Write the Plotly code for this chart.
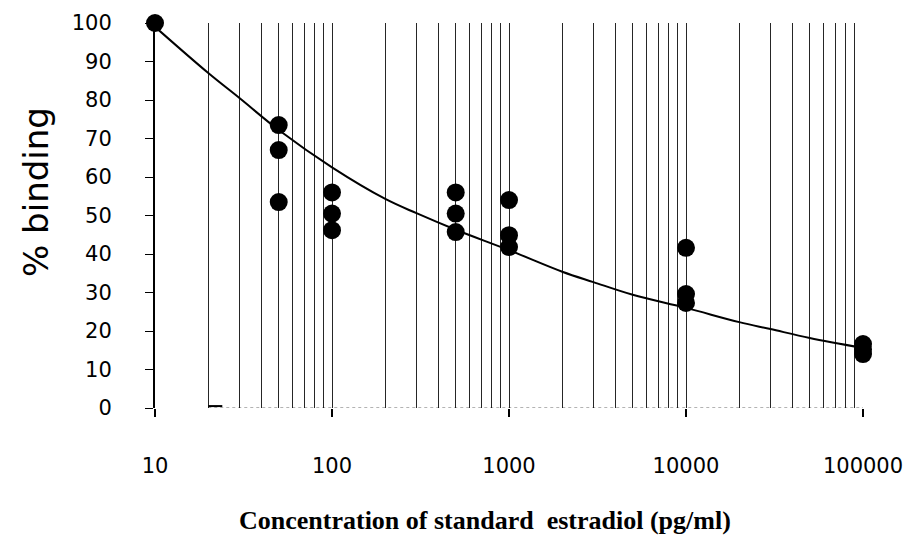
import plotly.graph_objects as go

# Measured standards (pg/ml) and % binding
conc = [10, 50, 50, 50, 100, 100, 100, 500, 500, 500,
        1000, 1000, 1000, 10000, 10000, 10000, 100000, 100000, 100000]
binding = [100, 73.5, 67, 53.5, 56, 50.5, 46.2, 56, 50.5, 45.7,
           54, 44.9, 41.8, 41.6, 29.6, 27.3, 16.6, 15.2, 14.0]

# Fitted curve
curve_x = [10, 20, 30, 50, 100, 200, 300, 500, 1000, 2000, 3000, 5000,
           10000, 20000, 30000, 50000, 100000]
curve_y = [99, 87, 80.5, 72.2, 62.5, 54.3, 50.6, 46.3, 41, 35.4, 32.7, 29.4,
           26, 22.3, 20.5, 18.2, 15.6]

# Vertical grid positions (log paper)
grid_x = [20, 30, 40, 50, 60, 70, 80, 90,
          100, 200, 300, 400, 500, 600, 700, 800, 900,
          1000, 2000, 3000, 4000, 5000, 6000, 7000, 8000, 9000,
          10000, 20000, 30000, 40000, 50000, 60000, 70000, 80000, 90000]

x_ticks = [10, 100, 1000, 10000, 100000]
x_tick_text = ["10", "100", "1000", "10000", "100000"]
y_ticks = [0, 10, 20, 30, 40, 50, 60, 70, 80, 90, 100]

fig = go.Figure()

fig.add_trace(go.Scatter(
    x=curve_x, y=curve_y, mode="lines",
    line=dict(color="black", width=2, shape="spline", smoothing=1.0),
    cliponaxis=False, showlegend=False, hoverinfo="skip"))

fig.add_trace(go.Scatter(
    x=conc, y=binding, mode="markers",
    marker=dict(color="black", size=18, line=dict(width=0)),
    cliponaxis=False, showlegend=False))

# dotted baseline and small artifact segment
fig.add_shape(type="line", xref="x", yref="y", x0=20, x1=100000, y0=0, y1=0,
              line=dict(color="rgba(0,0,0,0.6)", width=1, dash="dot"))
fig.add_shape(type="line", xref="x", yref="y", x0=20, x1=24, y0=0.5, y1=0.5,
              line=dict(color="black", width=2))

tick_font = dict(family="DejaVu Sans", size=21, color="black")

fig.update_layout(
    width=915, height=549,
    margin=dict(l=155, r=52, t=23, b=141),
    paper_bgcolor="white", plot_bgcolor="white",
    xaxis=dict(
        type="log", range=[1, 5],
        tickvals=x_ticks, ticktext=x_tick_text,
        ticks="outside", ticklen=8, tickwidth=2, tickcolor="black",
        showgrid=False, zeroline=False, showline=False,
        tickfont=tick_font, ticklabelstandoff=31,
        minor=dict(tickvals=grid_x, showgrid=True, gridcolor="rgba(0,0,0,0.85)",
                   gridwidth=1.3, ticks=""),
    ),
    yaxis=dict(
        range=[0, 100], tickvals=y_ticks,
        ticks="outside", ticklen=8, tickwidth=1, tickcolor="black",
        showgrid=False, zeroline=False,
        showline=True, linecolor="black", linewidth=2,
        tickfont=tick_font, ticklabelstandoff=29,
    ),
    annotations=[
        dict(text="% binding", xref="paper", yref="paper",
             x=(36 - 155) / 708, y=(408 - 192) / 385, textangle=-90,
             showarrow=False, xanchor="center", yanchor="middle",
             font=dict(family="DejaVu Sans", size=34, color="black")),
        dict(text="<b>Concentration of standard  estradiol (pg/ml)</b>",
             xref="paper", yref="paper",
             x=(485 - 155) / 708, y=(408 - 520) / 385,
             showarrow=False, xanchor="center", yanchor="middle",
             font=dict(family="Liberation Serif", size=26, color="black")),
    ],
)

fig.write_html("out.html")
